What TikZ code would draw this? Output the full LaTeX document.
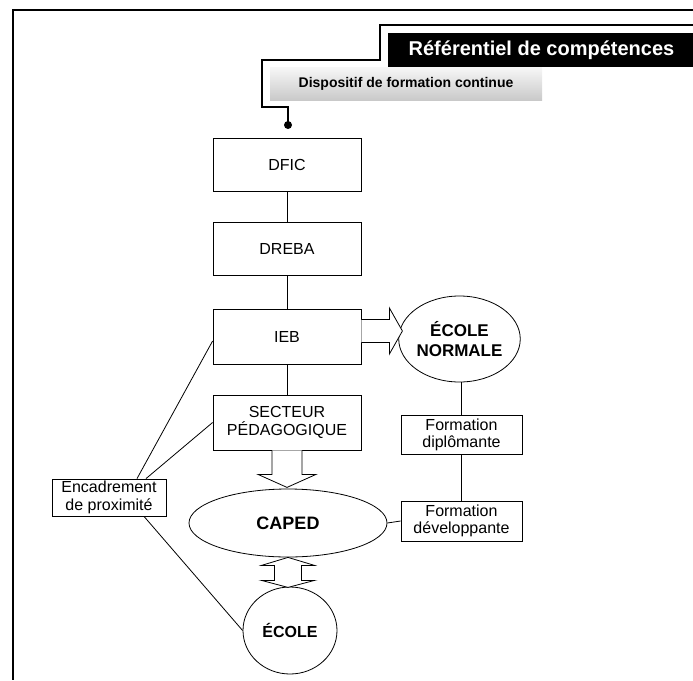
\documentclass[tikz,border=0pt]{standalone}
\usepackage{fontspec}
\setmainfont{Liberation Sans}
\usetikzlibrary{shapes.geometric,calc}
\begin{document}
\begin{tikzpicture}[x=1pt,y=-1pt,
  box/.style={draw=black,line width=0.8pt,rectangle,inner sep=0pt,align=center,font=\fontsize{16}{18}\selectfont},
  smallbox/.style={box,font=\fontsize{16}{17}\selectfont},
  oval/.style={draw=black,line width=0.8pt,ellipse,inner sep=0pt,align=center},
  link/.style={line width=0.8pt},
  hollow/.style={draw=black,fill=white,line width=0.8pt,line join=miter}
]
\useasboundingbox (0,0) rectangle (693,680);
% frame
\draw[line width=2.6pt,line join=miter] (693,10) -- (13,10) -- (13,680);
% header
\node[fill=black,text=white,inner sep=0pt,minimum width=307pt,minimum height=34pt,
      font=\fontsize{20}{22}\selectfont\bfseries] (ref) at (541.5,50) {Référentiel de compétences};
\node[shade,top color=gray!6,bottom color=gray!42,inner sep=0pt,minimum width=272pt,minimum height=33pt,
      font=\fontsize{14}{16}\selectfont\bfseries] (disp) at (406,83.5) {Dispositif de formation continue};
\node[circle,fill=black,inner sep=0pt,minimum size=8pt] (dot) at (288,125) {};
\draw[line width=1.5pt,line join=miter] (dot.center) -- (288,107) -- (262,107) -- (262,60) -- (380,60) -- (380,25) -- (693,25);
% main column
\node[box,minimum width=148pt,minimum height=53pt] (dfic) at (287,164.5) {DFIC};
\node[box,minimum width=148pt,minimum height=53pt] (dreba) at (287,248.5) {DREBA};
\node[box,minimum width=148pt,minimum height=55pt] (ieb) at (287,336.5) {IEB};
\node[box,minimum width=148pt,minimum height=55pt] (secteur) at (287,422.5) {SECTEUR\\PÉDAGOGIQUE};
\node[oval,minimum width=107pt,minimum height=86pt,font=\fontsize{17}{20}\selectfont\bfseries] (ecoleN) at (459.5,339) {ÉCOLE\\NORMALE};
\node[smallbox,minimum width=121pt,minimum height=39pt] (fdip) at (461.5,434.5) {Formation\\diplômante};
\node[smallbox,minimum width=121pt,minimum height=40pt] (fdev) at (461.5,521) {Formation\\développante};
\node[oval,minimum width=198pt,minimum height=68pt,font=\fontsize{18}{20}\selectfont\bfseries] (caped) at (288,523) {CAPED};
\node[oval,minimum width=94pt,minimum height=87pt,font=\fontsize{16}{18}\selectfont\bfseries] (ecole) at (290,630.5) {ÉCOLE};
\node[smallbox,minimum width=114pt,minimum height=37pt,font=\fontsize{16}{17.5}\selectfont] (encad) at (109,497.5) {Encadrement\\de proximité};
% connectors
\draw[link] (dfic) -- (dreba);
\draw[link] (dreba) -- (ieb);
\draw[link] (ieb) -- (secteur);
\draw[link] (fdip.north) -- (fdip.north |- ecoleN.south);
\draw[link] (fdip) -- (fdev);
\draw[link] (caped.east) -- (fdev.west);
\coordinate (e1) at ($(encad.north)+(28,0)$);
\coordinate (e2) at ($(encad.north)+(37,0)$);
\coordinate (e3) at ($(encad.south)+(35,0)$);
\coordinate (i1) at ($(ieb.west)+(0,4.5)$);
\draw[link] (e1) -- (i1);
\draw[link] (e2) -- (secteur.west);
\draw[link] (e3) -- (ecole.west);
% hollow arrows
\coordinate (aS) at ($(ieb.east)+(0,-5.5)$);
\draw[hollow,shift={(aS)}] (0,-11.5) -- (28,-11.5) -- (28,-23) -- (41,0) -- (28,23) -- (28,11.5) -- (0,11.5);
\draw[hollow,shift={(secteur.south)}] (-15,0) -- (-15,24) -- (-29,24) -- (0,37) -- (29,24) -- (15,24) -- (15,0);
\draw[hollow,shift={(caped.south)}] (0,0) -- (26.5,8) -- (13.5,8) -- (13.5,23) -- (26.5,23) -- (0,30) -- (-26.5,23) -- (-13.5,23) -- (-13.5,8) -- (-26.5,8) -- cycle;
\end{tikzpicture}
\end{document}
